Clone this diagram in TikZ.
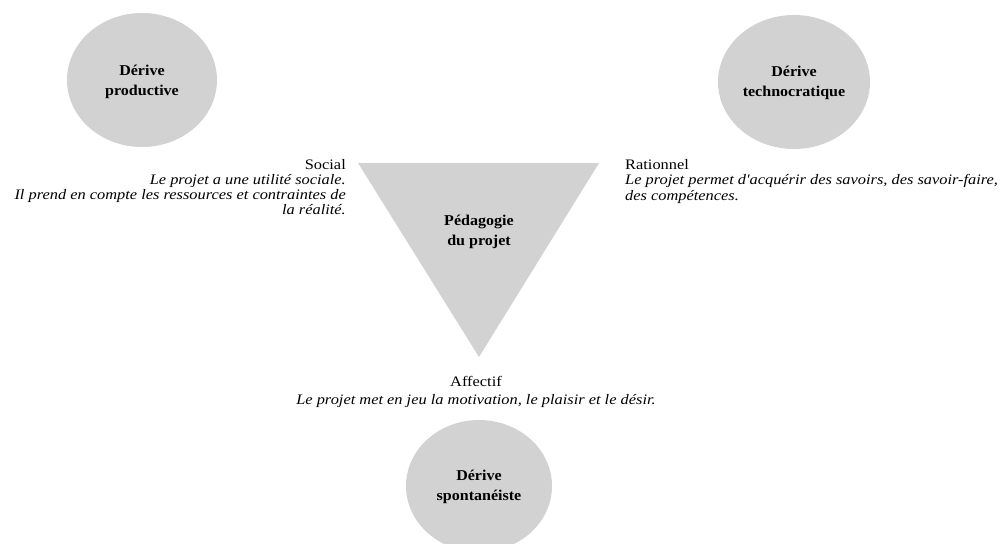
\documentclass[tikz,border=0pt]{standalone}
\usepackage{fontspec}
\setmainfont{Liberation Serif}
\newfontfamily\widefont[FakeStretch=1.13]{Liberation Serif}
\newfontfamily\widebold[FakeStretch=1.07]{Liberation Serif Bold}
\definecolor{shapegray}{RGB}{210,210,210}
\begin{document}
\begin{tikzpicture}[x=1pt,y=-1pt,
  txt/.style={inner sep=0pt,font=\widefont\fontsize{14.5}{15}\selectfont},
  lbl/.style={inner sep=0pt,align=center,font=\widebold\fontsize{15}{20.5}\selectfont},
  ]
\useasboundingbox (0,0) rectangle (1003,543);
\clip (0,0) rectangle (1003,543);
% circles
\path[fill=shapegray] (142,80) ellipse [x radius=75, y radius=67];
\node[lbl] (prod) at (142,82) {Dérive\\productive};
\path[fill=shapegray] (794,82) ellipse [x radius=76, y radius=67];
\node[lbl] (tech) at (794,83) {Dérive\\technocratique};
\path[fill=shapegray] (479,486) ellipse [x radius=73, y radius=66];
\node[lbl] (spont) at (479,487) {Dérive\\spontanéiste};
% triangle
\coordinate (tl) at (358,163);
\coordinate (tr) at (599,163);
\coordinate (tb) at (479,357);
\fill[shapegray] (tl) -- (tr) -- (tb) -- cycle;
\node[lbl] (peda) at (479,232) {Pédagogie\\du projet};
% texts
\node[txt,anchor=north east,align=right] (social) at (346,159) {Social\\\textit{Le projet a une utilité sociale.}\\\textit{Il prend en compte les ressources et contraintes de}\\\textit{la réalité.}};
\node[txt,anchor=north west,align=left,font=\widefont\fontsize{14.5}{15.5}\selectfont] (ratio) at (625,159) {Rationnel\\\textit{Le projet permet d'acquérir des savoirs, des savoir-faire,}\\\textit{des compétences.}};
\node[txt,anchor=north,align=center,font=\widefont\fontsize{14.5}{18}\selectfont] (affect) at (476,376) {Affectif\\\textit{Le projet met en jeu la motivation, le plaisir et le désir.}};
\end{tikzpicture}
\end{document}
